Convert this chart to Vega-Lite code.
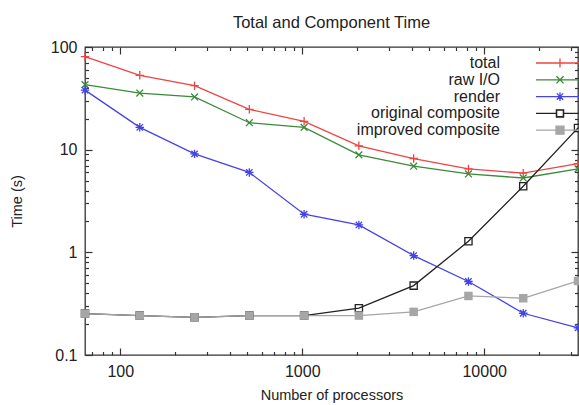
{
  "$schema": "https://vega.github.io/schema/vega-lite/v6.json",
  "width": 493,
  "height": 308,
  "autosize": "none",
  "padding": {"left": 85, "top": 47, "right": 1, "bottom": 50},
  "background": "white",
  "config": {
    "view": {"stroke": "#333333", "strokeWidth": 1.3},
    "font": "Liberation Sans",
    "axis": {"labelFont": "Liberation Sans", "titleFont": "Liberation Sans", "labelColor": "#222222", "titleColor": "#222222", "titleFontWeight": "normal", "grid": false, "domain": false, "tickColor": "#333333", "tickWidth": 1.2, "labelFlush": false, "labelOverlap": false}
  },
  "title": {"text": "Total and Component Time", "font": "Liberation Sans", "fontSize": 16.5, "fontWeight": "normal", "color": "#222222", "anchor": "middle", "offset": 8},
  "data": {"values": [
    {"n": 64, "series": "total", "t": 80.5},
    {"n": 128, "series": "total", "t": 53},
    {"n": 256, "series": "total", "t": 42},
    {"n": 512, "series": "total", "t": 24.7},
    {"n": 1024, "series": "total", "t": 18.9},
    {"n": 2048, "series": "total", "t": 10.9},
    {"n": 4096, "series": "total", "t": 8.2},
    {"n": 8192, "series": "total", "t": 6.5},
    {"n": 16384, "series": "total", "t": 5.9},
    {"n": 32768, "series": "total", "t": 7.3},
    {"n": 64, "series": "raw I/O", "t": 43},
    {"n": 128, "series": "raw I/O", "t": 35.6},
    {"n": 256, "series": "raw I/O", "t": 32.6},
    {"n": 512, "series": "raw I/O", "t": 18.3},
    {"n": 1024, "series": "raw I/O", "t": 16.5},
    {"n": 2048, "series": "raw I/O", "t": 8.9},
    {"n": 4096, "series": "raw I/O", "t": 6.9},
    {"n": 8192, "series": "raw I/O", "t": 5.8},
    {"n": 16384, "series": "raw I/O", "t": 5.3},
    {"n": 32768, "series": "raw I/O", "t": 6.5},
    {"n": 64, "series": "render", "t": 38},
    {"n": 128, "series": "render", "t": 16.5},
    {"n": 256, "series": "render", "t": 9.1},
    {"n": 512, "series": "render", "t": 6.0},
    {"n": 1024, "series": "render", "t": 2.35},
    {"n": 2048, "series": "render", "t": 1.85},
    {"n": 4096, "series": "render", "t": 0.93},
    {"n": 8192, "series": "render", "t": 0.52},
    {"n": 16384, "series": "render", "t": 0.255},
    {"n": 32768, "series": "render", "t": 0.184},
    {"n": 64, "series": "original composite", "t": 0.253},
    {"n": 128, "series": "original composite", "t": 0.242},
    {"n": 256, "series": "original composite", "t": 0.233},
    {"n": 512, "series": "original composite", "t": 0.242},
    {"n": 1024, "series": "original composite", "t": 0.242},
    {"n": 2048, "series": "original composite", "t": 0.286},
    {"n": 4096, "series": "original composite", "t": 0.474},
    {"n": 8192, "series": "original composite", "t": 1.28},
    {"n": 16384, "series": "original composite", "t": 4.4},
    {"n": 32768, "series": "original composite", "t": 16.3},
    {"n": 64, "series": "improved composite", "t": 0.253},
    {"n": 128, "series": "improved composite", "t": 0.242},
    {"n": 256, "series": "improved composite", "t": 0.233},
    {"n": 512, "series": "improved composite", "t": 0.242},
    {"n": 1024, "series": "improved composite", "t": 0.242},
    {"n": 2048, "series": "improved composite", "t": 0.242},
    {"n": 4096, "series": "improved composite", "t": 0.263},
    {"n": 8192, "series": "improved composite", "t": 0.376},
    {"n": 16384, "series": "improved composite", "t": 0.357},
    {"n": 32768, "series": "improved composite", "t": 0.526}
  ]},
  "layer": [
    {
      "mark": {"type": "line", "strokeWidth": 1.3, "clip": false},
      "encoding": {
        "x": {"field": "n", "type": "quantitative",
          "scale": {"type": "log", "domain": [64, 32768], "nice": false},
          "axis": {"orient": "bottom", "title": "Number of processors", "titleFontSize": 14.5, "titlePadding": 6, "titleColor": "#222222",
            "values": [70, 80, 90, 100, 200, 300, 400, 500, 600, 700, 800, 900, 1000, 2000, 3000, 4000, 5000, 6000, 7000, 8000, 9000, 10000, 20000, 30000],
            "format": "~g",
            "labelExpr": "indexof([100, 1000, 10000], datum.value) >= 0 ? datum.label : ''",
            "tickSize": {"condition": {"test": "indexof([100, 1000, 10000], datum.value) >= 0", "value": -7}, "value": -3.5},
            "labelFontSize": 16, "labelPadding": 15}},
        "y": {"field": "t", "type": "quantitative",
          "scale": {"type": "log", "domain": [0.1, 100], "nice": false},
          "axis": {"orient": "left", "title": "Time (s)", "titleFontSize": 14.5, "titlePadding": 26, "titleColor": "#222222",
            "values": [0.1, 0.2, 0.3, 0.4, 0.5, 0.6, 0.7, 0.8, 0.9, 1, 2, 3, 4, 5, 6, 7, 8, 9, 10, 20, 30, 40, 50, 60, 70, 80, 90, 100],
            "format": "~g",
            "labelExpr": "indexof([0.1, 1, 10, 100], datum.value) >= 0 ? datum.label : ''",
            "tickSize": {"condition": {"test": "indexof([0.1, 1, 10, 100], datum.value) >= 0", "value": -7}, "value": -3.5},
            "labelFontSize": 16, "labelPadding": 15}},
        "color": {"field": "series", "type": "nominal",
          "scale": {"domain": ["total", "raw I/O", "render", "original composite", "improved composite"],
                    "range": ["#ee4444", "#3a8a3a", "#4444e6", "#222222", "#a6a6a6"]},
          "legend": {"orient": "none", "legendX": 467, "legendY": 8, "title": null, "padding": 0,
            "labelFontSize": 16, "labelFont": "Liberation Sans", "labelColor": "#222222", "labelAlign": "right", "labelOffset": -68,
            "symbolSize": 64, "rowPadding": 0.8, "symbolStrokeWidth": 1.3,
            "encode": {"symbols": {"update": {
              "shape": {"signal": "datum.value === 'total' ? 'M-6,0H6M0,-1.1V1.1' : datum.value === 'raw I/O' ? 'M-6,0H6M-0.9,-0.9L0.9,0.9M-0.9,0.9L0.9,-0.9' : datum.value === 'render' ? 'M-6,0H6M0,-1.1V1.1M-0.8,-0.8L0.8,0.8M-0.8,0.8L0.8,-0.8' : datum.value === 'original composite' ? 'M-6,0H-0.9M0.9,0H6M-0.9,-0.9H0.9V0.9H-0.9ZM-0.84,-0.84V0.84H0.84V-0.84Z' : 'M-6,0H-1M1,0H6M-1,-1H1V1H-1Z'"},
              "fill": {"signal": "datum.value === 'improved composite' ? '#999999' : 'transparent'"},
              "strokeWidth": {"value": 1.3}
            }}}}}
      }
    },
    {
      "encoding": {
        "x": {"field": "n", "type": "quantitative",
          "axis": {"orient": "top", "title": null, "labels": false,
            "values": [70, 80, 90, 100, 200, 300, 400, 500, 600, 700, 800, 900, 1000, 2000, 3000, 4000, 5000, 6000, 7000, 8000, 9000, 10000, 20000, 30000],
            "tickSize": {"condition": {"test": "indexof([100, 1000, 10000], datum.value) >= 0", "value": -7}, "value": -3.5}}},
        "y": {"field": "t", "type": "quantitative",
          "axis": {"orient": "right", "title": null, "labels": false,
            "values": [0.1, 0.2, 0.3, 0.4, 0.5, 0.6, 0.7, 0.8, 0.9, 1, 2, 3, 4, 5, 6, 7, 8, 9, 10, 20, 30, 40, 50, 60, 70, 80, 90, 100],
            "tickSize": {"condition": {"test": "indexof([0.1, 1, 10, 100], datum.value) >= 0", "value": -7}, "value": -3.5}}},
        "color": {"field": "series", "type": "nominal", "legend": null}
      },
      "layer": [
        {"transform": [{"filter": "datum.series === 'original composite'"}],
         "mark": {"type": "point", "filled": false, "shape": "square", "size": 52, "strokeWidth": 1.3, "opacity": 1, "clip": false}},
        {"transform": [{"filter": "datum.series === 'improved composite'"}],
         "mark": {"type": "point", "filled": true, "shape": "square", "size": 72, "opacity": 1, "clip": false}},
        {"transform": [{"filter": "datum.series === 'total'"}],
         "mark": {"type": "point", "filled": false, "shape": "M-1,0H1M0,-1V1", "size": 72, "strokeWidth": 1.3, "opacity": 1, "clip": false}},
        {"transform": [{"filter": "datum.series === 'raw I/O'"}],
         "mark": {"type": "point", "filled": false, "shape": "M-0.8,-0.8L0.8,0.8M-0.8,0.8L0.8,-0.8", "size": 72, "strokeWidth": 1.3, "opacity": 1, "clip": false}},
        {"transform": [{"filter": "datum.series === 'render'"}],
         "mark": {"type": "point", "filled": false, "shape": "M-1,0H1M0,-1V1M-0.75,-0.75L0.75,0.75M-0.75,0.75L0.75,-0.75", "size": 72, "strokeWidth": 1.3, "opacity": 1, "clip": false}}
      ]
    }
  ],
  "resolve": {"axis": {"x": "independent", "y": "independent"}}
}
